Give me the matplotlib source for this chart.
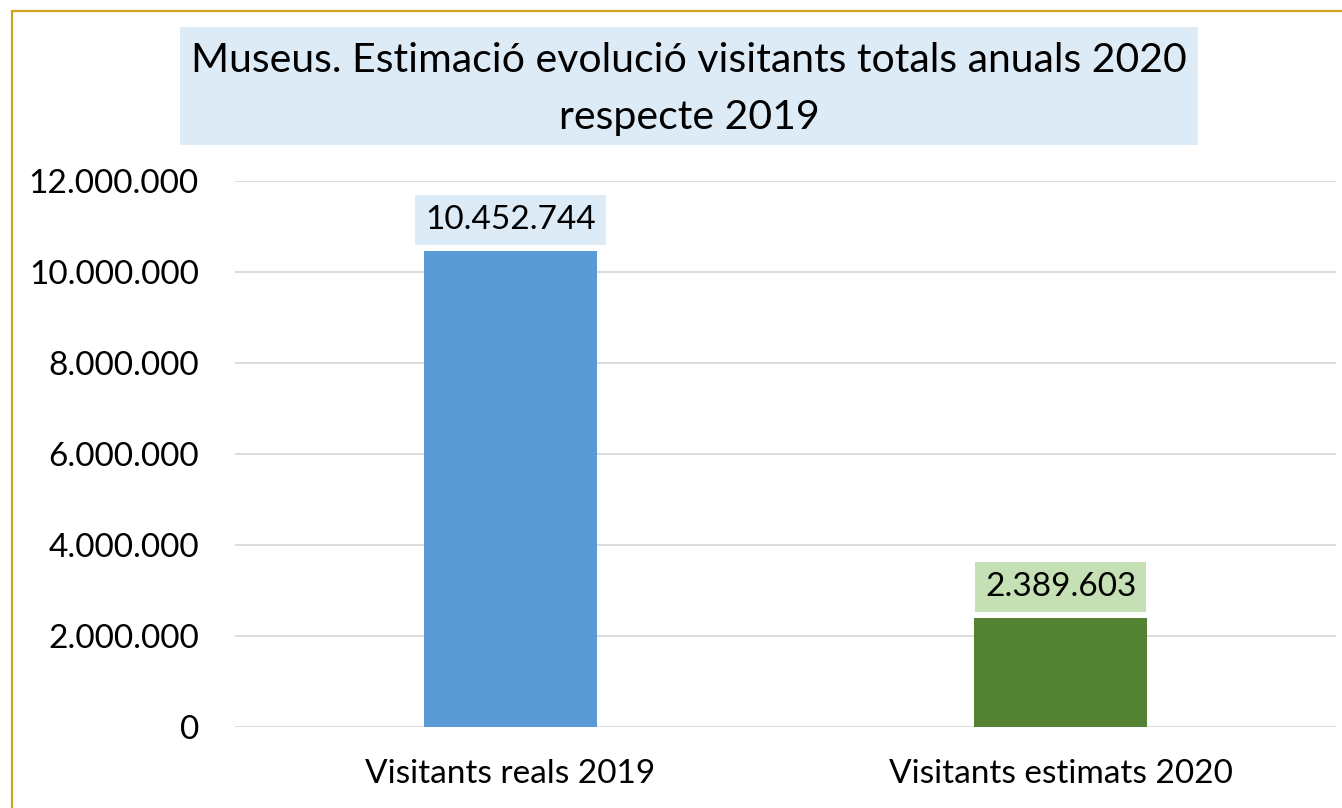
import matplotlib.pyplot as plt
from matplotlib.patches import Rectangle
from matplotlib.ticker import FuncFormatter

categories = ['Visitants reals 2019', 'Visitants estimats 2020']
values = [10452744, 2389603]
bar_colors = ['#5B9BD5', '#548235']
label_colors = ['#DDEBF7', '#C5E0B4']
title = 'Museus. Estimació evolució visitants totals anuals 2020\nrespecte 2019'

plt.rcParams['font.family'] = ['Lato', 'DejaVu Sans']

W, H = 1342, 808
fig = plt.figure(figsize=(W / 100, H / 100), dpi=100)

# golden frame (right and bottom edges fall outside the image)
fig.patches.append(Rectangle((12 / W, -0.05), 1.2, (808 - 11) / H + 0.05,
                             transform=fig.transFigure, fill=False,
                             edgecolor='#CFA21E', linewidth=1.6))

# title box
fig.patches.append(Rectangle((180 / W, 1 - 145 / H), (1198 - 180) / W, (145 - 27) / H,
                             transform=fig.transFigure, facecolor='#DDEBF7',
                             edgecolor='none'))
fig.text(689 / W, 1 - 89 / H, title, ha='center', va='center',
         fontsize=29.5, linespacing=1.7, color='black')

ax = fig.add_axes([235 / W, 1 - 727 / H, (1336 - 235) / W, (727 - 181) / H])
x = range(len(categories))
ax.bar(x, values, width=0.314, color=bar_colors, zorder=3)
ax.set_xlim(-0.5, 1.5)
ax.set_ylim(0, 12e6)
ax.set_yticks(range(0, 12000001, 2000000))
ax.yaxis.set_major_formatter(FuncFormatter(lambda v, p: f'{int(v):,}'.replace(',', '.')))
ax.set_xticks(list(x))
ax.set_xticklabels(categories)
ax.tick_params(axis='both', length=0, labelsize=24)
ax.tick_params(axis='y', pad=26)
ax.tick_params(axis='x', pad=23)
ax.grid(axis='y', color='#D9D9D9', linewidth=1.3, zorder=0)
for s in ax.spines.values():
    s.set_visible(False)

for xi, v, c in zip(x, values, label_colors):
    ax.annotate(f'{v:,}'.replace(',', '.'), (xi, v), xytext=(0, 12),
                textcoords='offset points', ha='center', va='bottom',
                fontsize=24, zorder=4,
                bbox=dict(boxstyle='square,pad=0.3', facecolor=c, edgecolor='none'))

fig.savefig('out.png', dpi=100)
